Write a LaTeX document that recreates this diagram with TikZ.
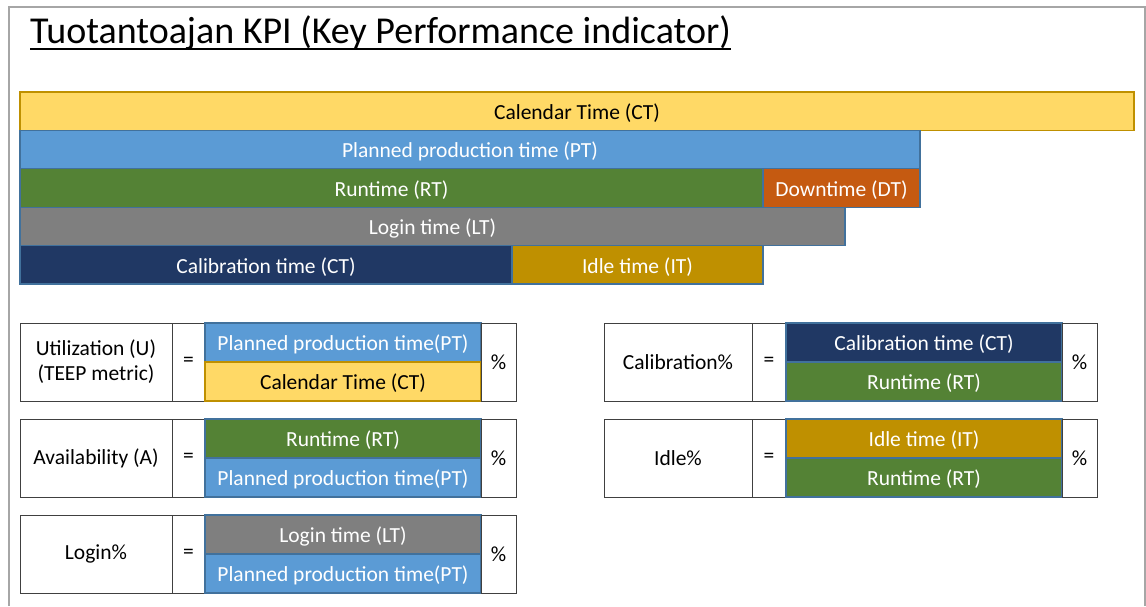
\documentclass[tikz,border=0pt]{standalone}
\usepackage{fontspec}
\setmainfont{Carlito}
\usepackage{tikz}
\usetikzlibrary{positioning}

\definecolor{calyellow}{HTML}{FFD966}
\definecolor{goldedge}{HTML}{BF9000}
\definecolor{ptblue}{HTML}{5B9BD5}
\definecolor{blueedge}{HTML}{41719C}
\definecolor{rtgreen}{HTML}{548235}
\definecolor{dtorange}{HTML}{C55A11}
\definecolor{ltgray}{HTML}{7F7F7F}
\definecolor{cbnavy}{HTML}{203864}
\definecolor{idlegold}{HTML}{BF9000}
\definecolor{celledge}{HTML}{404040}
\definecolor{framegray}{HTML}{A6A6A6}

\begin{document}
\begin{tikzpicture}[x=1pt, y=-1pt,
    bar/.style={draw=blueedge, line width=1.2pt, anchor=north west, minimum height=38.4pt,
      inner sep=0pt, outer sep=0pt, text=white, text depth=2.4pt, text height=19pt,
      font=\fontsize{21.5}{25}\selectfont},
    cell/.style={draw=celledge, line width=0.9pt, anchor=north west, minimum height=78pt,
      inner sep=0pt, outer sep=0pt, align=center, font=\fontsize{21.5}{25}\selectfont},
    frac/.style={draw=blueedge, line width=1.2pt, anchor=north west, minimum width=276pt,
      minimum height=39pt, inner sep=0pt, outer sep=0pt, text=white, text depth=2.4pt,
      text height=19pt, font=\fontsize{21.5}{25}\selectfont}
]
  \useasboundingbox (0,0) rectangle (1146,606);

  % Slide frame and title
  \draw[framegray, line width=1.5pt] (9,606) -- (9,7) -- (1145,7) -- (1145,606);
  \node[anchor=base west, inner sep=0pt, font=\fontsize{38}{42}\selectfont] (title) at (30,43)
    {Tuotantoajan KPI (Key Performance indicator)};
  \draw[line width=1.5pt] ([yshift=-6pt]title.base west) -- ([yshift=-6pt]title.base east);

  % Time bars
  \node[bar, fill=calyellow, draw=goldedge, text=black, minimum width=1114pt] (ct) at (20,92) {Calendar Time (CT)};
  \node[bar, fill=ptblue, minimum width=900pt] (pt) at (ct.south west) {Planned production time (PT)};
  \node[bar, fill=rtgreen, minimum width=743pt] (rt) at (pt.south west) {Runtime (RT)};
  \node[bar, fill=dtorange, minimum width=157pt] (dt) at (rt.north east) {Downtime (DT)};
  \node[bar, fill=ltgray, minimum width=825pt] (lt) at (rt.south west) {Login time (LT)};
  \node[bar, fill=cbnavy, minimum width=492pt] (cb) at (lt.south west) {Calibration time (CT)};
  \node[bar, fill=idlegold, minimum width=251pt] (it) at (cb.north east) {Idle time (IT)};

  % Utilization
  \node[cell, minimum width=152pt] (ulab) at (20,323) {Utilization (U)\\(TEEP metric)};
  \node[cell, minimum width=33pt] (ueq) at (ulab.north east) {=};
  \node[frac, fill=ptblue] (unum) at (ueq.north east) {Planned production time(PT)};
  \node[frac, fill=calyellow, draw=goldedge, text=black] (uden) at (unum.south west) {Calendar Time (CT)};
  \node[cell, minimum width=35pt] (upct) at (unum.north east) {\%};

  % Availability
  \node[cell, minimum width=152pt] (alab) at (20,419) {Availability (A)};
  \node[cell, minimum width=33pt] (aeq) at (alab.north east) {=};
  \node[frac, fill=rtgreen] (anum) at (aeq.north east) {Runtime (RT)};
  \node[frac, fill=ptblue] (aden) at (anum.south west) {Planned production time(PT)};
  \node[cell, minimum width=35pt] (apct) at (anum.north east) {\%};

  % Login
  \node[cell, minimum width=152pt] (llab) at (20,515) {Login\%};
  \node[cell, minimum width=33pt] (leq) at (llab.north east) {=};
  \node[frac, fill=ltgray] (lnum) at (leq.north east) {Login time (LT)};
  \node[frac, fill=ptblue] (lden) at (lnum.south west) {Planned production time(PT)};
  \node[cell, minimum width=35pt] (lpct) at (lnum.north east) {\%};

  % Calibration
  \node[cell, minimum width=148pt] (clab) at (604,323) {Calibration\%};
  \node[cell, minimum width=34pt] (ceq) at (clab.north east) {=};
  \node[frac, fill=cbnavy] (cnum) at (ceq.north east) {Calibration time (CT)};
  \node[frac, fill=rtgreen] (cden) at (cnum.south west) {Runtime (RT)};
  \node[cell, minimum width=35pt] (cpct) at (cnum.north east) {\%};

  % Idle
  \node[cell, minimum width=148pt] (ilab) at (604,419) {Idle\%};
  \node[cell, minimum width=34pt] (ieq) at (ilab.north east) {=};
  \node[frac, fill=idlegold] (inum) at (ieq.north east) {Idle time (IT)};
  \node[frac, fill=rtgreen] (iden) at (inum.south west) {Runtime (RT)};
  \node[cell, minimum width=35pt] (ipct) at (inum.north east) {\%};

\end{tikzpicture}
\end{document}
